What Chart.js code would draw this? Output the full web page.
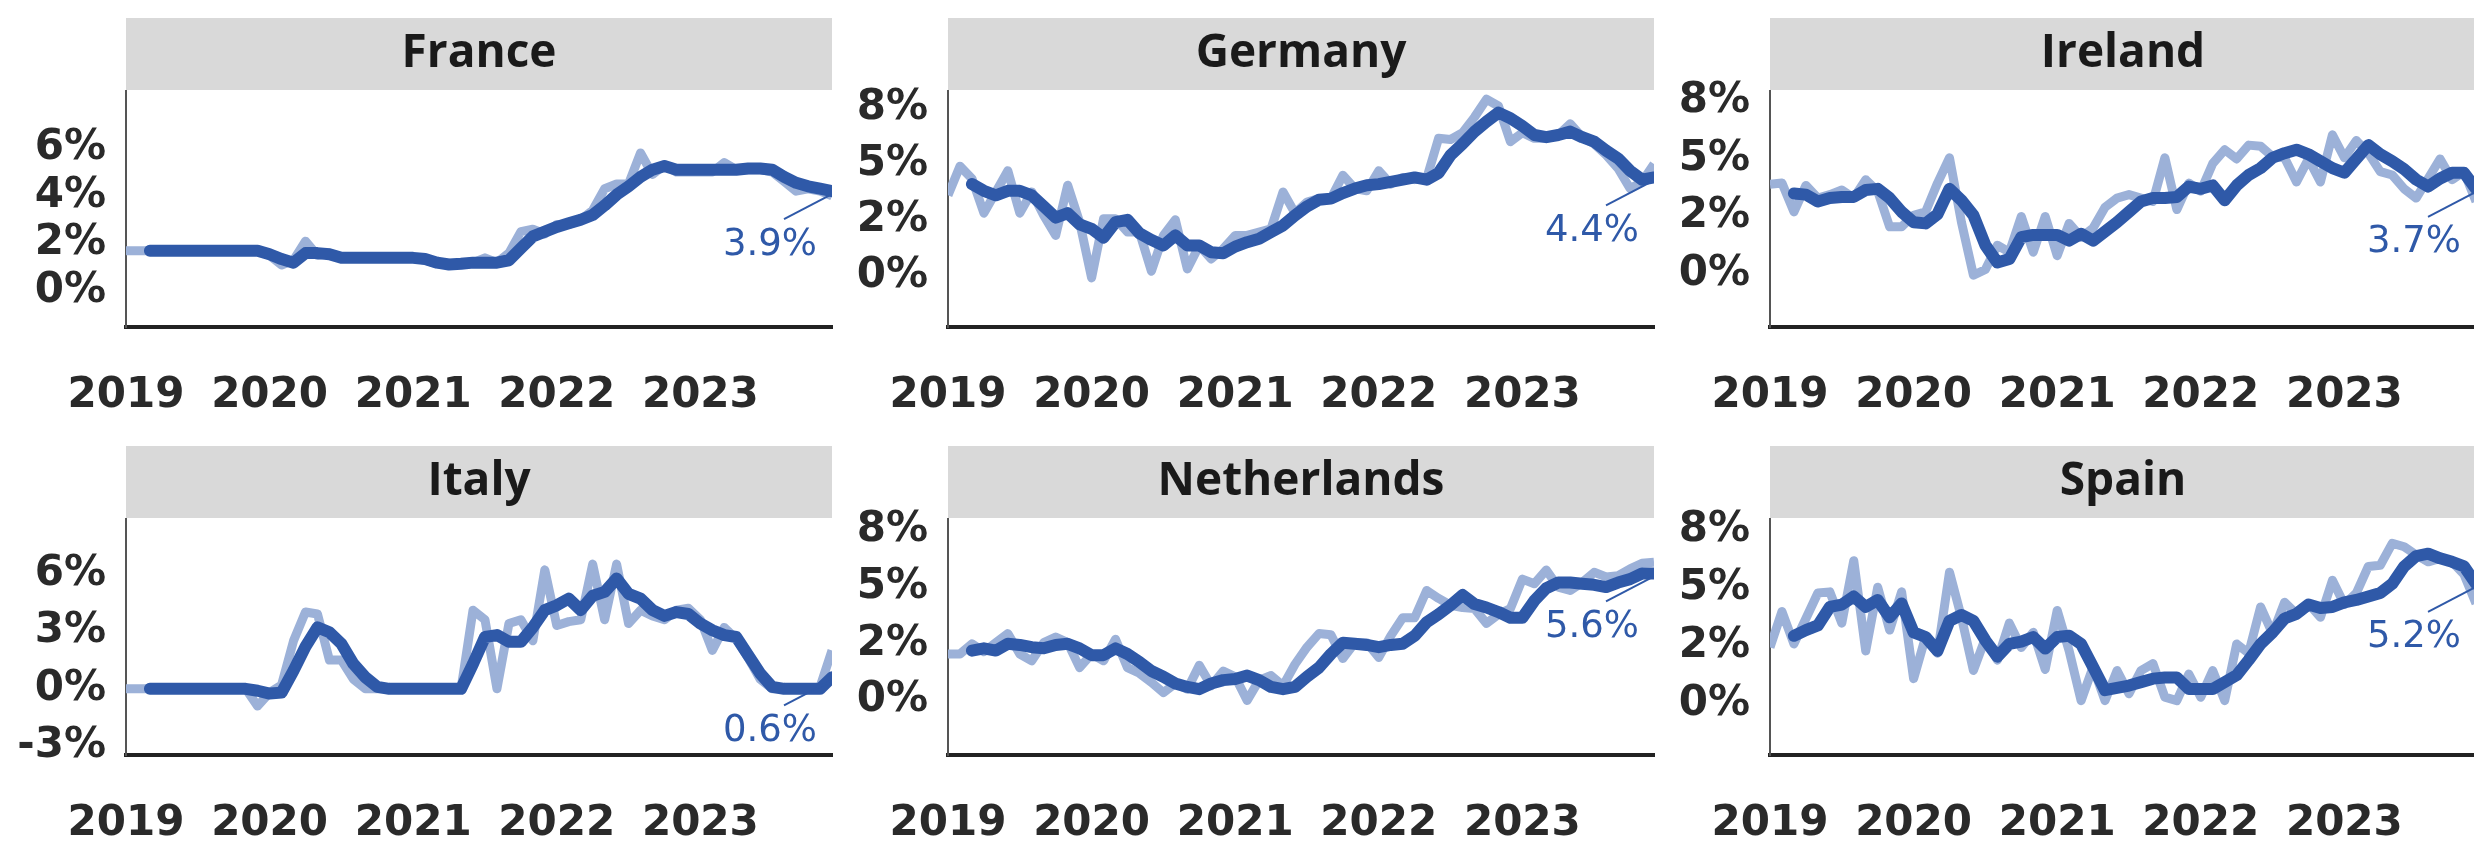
<!DOCTYPE html>
<html>
<head>
<meta charset="utf-8">
<title>Country panels</title>
<script src="https://cdn.jsdelivr.net/npm/chart.js@4.4.1/dist/chart.umd.min.js"></script>
<style>
  html, body { margin: 0; padding: 0; background: #ffffff; width: 2474px; height: 846px; overflow: hidden; }
  #panels { position: relative; width: 2474px; height: 846px; }
  #panels canvas { position: absolute; }
</style>
</head>
<body>
<div id="panels"></div>
<script>
// Monthly series start in Jan 2019 (month index 0) and end in Dec 2023 (index 59).
// The smoothed (dark) series starts two months later, at index 2.
const SMOOTH_START = 2;

const xTickMonths = [0, 12, 24, 36, 48];
const xTickLabels = ["2019", "2020", "2021", "2022", "2023"];

const countries = ["France", "Germany", "Ireland", "Italy", "Netherlands", "Spain"];
const endLabels = ["3.9%", "4.4%", "3.7%", "0.6%", "5.6%", "5.2%"];

// y axes (free per panel)
const yTicks = [
  [0, 2, 4, 6],
  [0, 2.5, 5, 7.5],
  [0, 2.5, 5, 7.5],
  [-3, 0, 3, 6],
  [0, 2.5, 5, 7.5],
  [0, 2.5, 5, 7.5]
];
const yTickLabels = [
  ["0%", "2%", "4%", "6%"],
  ["0%", "2%", "5%", "8%"],
  ["0%", "2%", "5%", "8%"],
  ["-3%", "0%", "3%", "6%"],
  ["0%", "2%", "5%", "8%"],
  ["0%", "2%", "5%", "8%"]
];
const yMin = [-1.5, -2.3, -2.3, -3.45, -2.4, -2.2];
const yMax = [8.4, 8.27, 7.95, 8.85, 8.0, 8.0];

// monthly values (light line)
const franceMonthly = [
  1.7, 1.7, 1.7, 1.7, 1.7, 1.7, 1.7, 1.7, 1.7, 1.7, 1.7, 1.7,
  1.5, 1.1, 1.3, 2.1, 1.5, 1.6, 1.4, 1.4, 1.4, 1.4, 1.4, 1.4,
  1.4, 1.3, 1.15, 1.1, 1.15, 1.2, 1.4, 1.2, 1.6, 2.5, 2.6, 2.4,
  2.8, 2.8, 3.0, 3.4, 4.3, 4.5, 4.5, 5.8, 4.9, 5.3, 5.0, 5.0,
  5.0, 5.0, 5.4, 5.1, 5.1, 5.1, 5.0, 4.6, 4.2, 4.3, 4.2, 4.0
];
const germanyMonthly = [
  3.6, 4.9, 4.35, 2.8, 3.75, 4.7, 2.8, 3.75, 2.7, 1.8, 4.05, 2.4,
  -0.1, 2.55, 2.55, 1.95, 1.95, 0.2, 1.8, 2.5, 0.3, 1.35, 0.75, 1.2,
  1.8, 1.8, 1.95, 2.1, 3.75, 2.8, 3.3, 3.45, 3.45, 4.5, 3.9, 3.8,
  4.7, 4.1, 4.4, 4.3, 4.35, 6.15, 6.1, 6.4, 7.1, 7.9, 7.6, 6.0,
  6.4, 6.15, 6.15, 6.3, 6.8, 6.2, 5.9, 5.4, 4.8, 3.9, 4.2, 5.0
];
const irelandMonthly = [
  3.9, 3.95, 2.7, 3.85, 3.3, 3.45, 3.65, 3.3, 4.1, 3.6, 2.05, 2.05,
  2.55, 2.7, 3.95, 5.05, 2.25, -0.05, 0.2, 1.25, 0.95, 2.5, 0.95, 2.5,
  0.8, 2.2, 1.6, 2.0, 2.9, 3.3, 3.45, 3.3, 3.15, 5.05, 2.8, 3.95,
  3.6, 4.8, 5.4, 5.0, 5.6, 5.55, 5.1, 5.05, 4.0, 5.0, 4.0, 6.05,
  5.05, 5.8, 5.25, 4.45, 4.3, 3.7, 3.3, 4.15, 5.0, 4.1, 4.45, 3.15
];
const italyMonthly = [
  0, 0, 0, 0, 0, 0, 0, 0, 0, 0, 0, -0.9,
  -0.2, 0.2, 2.5, 4.0, 3.9, 1.5, 1.5, 0.5, 0, 0, 0, 0,
  0, 0, 0, 0, 0, 4.1, 3.6, 0, 3.4, 3.6, 2.5, 6.2,
  3.3, 3.5, 3.6, 6.5, 3.6, 6.5, 3.4, 4.1, 3.8, 3.6, 4.1, 4.2,
  3.6, 2.0, 3.2, 2.6, 1.6, 0.5, 0, 0, 0, 0, 0.1, 2.0
];
const netherlandsMonthly = [
  2.05, 2.05, 2.5, 2.15, 2.55, 2.95, 2.05, 1.75, 2.55, 2.8, 2.55, 1.45,
  2.05, 1.75, 2.7, 1.45, 1.2, 0.8, 0.35, 0.75, 0.5, 1.55, 0.65, 1.3,
  1.05, 0.0, 0.9, 1.1, 0.65, 1.6, 2.35, 2.95, 2.9, 1.85, 2.55, 2.55,
  1.9, 2.85, 3.65, 3.65, 4.85, 4.5, 4.2, 4.1, 4.05, 3.4, 3.8, 4.05,
  5.35, 5.15, 5.75, 5.0, 4.85, 5.2, 5.65, 5.45, 5.5, 5.8, 6.05, 6.1
];
const spainMonthly = [
  2.45, 4.0, 2.6, 3.7, 4.8, 4.85, 3.5, 6.2, 2.3, 5.05, 3.2, 4.85,
  1.1, 2.9, 2.2, 5.7, 3.75, 1.45, 2.85, 1.9, 3.5, 2.45, 3.1, 1.5,
  4.05, 2.3, 0.15, 1.6, 0.15, 1.45, 0.45, 1.45, 1.75, 0.3, 0.15, 1.3,
  0.3, 1.45, 0.15, 2.6, 2.2, 4.2, 3.05, 4.4, 3.9, 4.35, 3.75, 5.35,
  4.3, 4.8, 5.95, 6.0, 6.95, 6.8, 6.45, 6.15, 6.3, 6.15, 5.6, 4.35
];

// smoothed values (dark line), from month index 2
const franceSmoothed = [
  1.7, 1.7, 1.7, 1.7, 1.7, 1.7, 1.7, 1.7, 1.7, 1.7,
  1.55, 1.35, 1.2, 1.6, 1.6, 1.55, 1.4, 1.4, 1.4, 1.4, 1.4, 1.4,
  1.4, 1.35, 1.2, 1.12, 1.15, 1.2, 1.2, 1.2, 1.3, 1.8, 2.3, 2.5,
  2.7, 2.85, 3.0, 3.2, 3.6, 4.05, 4.4, 4.8, 5.1, 5.25, 5.1, 5.1,
  5.1, 5.1, 5.1, 5.1, 5.15, 5.15, 5.1, 4.8, 4.55, 4.4, 4.3, 4.2
];
const germanySmoothed = [
  4.1, 3.8, 3.6, 3.8, 3.8, 3.6, 3.1, 2.6, 2.8, 2.3,
  2.1, 1.7, 2.4, 2.5, 1.9, 1.6, 1.35, 1.8, 1.35, 1.35, 1.05, 1.0,
  1.3, 1.5, 1.65, 1.95, 2.25, 2.7, 3.1, 3.4, 3.45, 3.7, 3.9, 4.05,
  4.1, 4.2, 4.3, 4.4, 4.3, 4.6, 5.4, 5.9, 6.45, 6.9, 7.3, 7.05,
  6.7, 6.3, 6.2, 6.3, 6.45, 6.2, 6.0, 5.6, 5.25, 4.7, 4.3, 4.4
];
const irelandSmoothed = [
  3.5, 3.45, 3.15, 3.3, 3.35, 3.35, 3.65, 3.7, 3.3, 2.7,
  2.25, 2.2, 2.6, 3.7, 3.2, 2.55, 1.25, 0.5, 0.65, 1.6, 1.7, 1.7,
  1.7, 1.45, 1.75, 1.45, 1.85, 2.25, 2.7, 3.15, 3.3, 3.3, 3.35, 3.8,
  3.7, 3.85, 3.2, 3.85, 4.3, 4.6, 5.05, 5.25, 5.4, 5.2, 4.9, 4.6,
  4.4, 5.0, 5.6, 5.2, 4.9, 4.55, 4.1, 3.8, 4.15, 4.4, 4.4, 3.7
];
const italySmoothed = [
  0, 0, 0, 0, 0, 0, 0, 0, 0, -0.1,
  -0.25, -0.2, 0.95, 2.2, 3.2, 2.95, 2.35, 1.3, 0.6, 0.1, 0, 0,
  0, 0, 0, 0, 0, 1.3, 2.7, 2.8, 2.45, 2.45, 3.2, 4.1,
  4.35, 4.7, 4.1, 4.85, 5.05, 5.75, 4.95, 4.7, 4.1, 3.8, 4.0, 3.9,
  3.4, 3.05, 2.8, 2.7, 1.75, 0.8, 0.1, 0, 0, 0, 0, 0.6
];
const netherlandsSmoothed = [
  2.2, 2.3, 2.2, 2.5, 2.45, 2.35, 2.3, 2.45, 2.5, 2.3,
  2.0, 2.0, 2.3, 2.05, 1.7, 1.3, 1.05, 0.75, 0.6, 0.5, 0.75, 0.9,
  0.95, 1.1, 0.9, 0.6, 0.5, 0.6, 1.05, 1.45, 2.05, 2.55, 2.5, 2.45,
  2.35, 2.45, 2.5, 2.85, 3.45, 3.8, 4.2, 4.65, 4.25, 4.1, 3.9, 3.65,
  3.65, 4.4, 4.95, 5.2, 5.2, 5.15, 5.1, 5.0, 5.2, 5.35, 5.6, 5.6
];
const spainSmoothed = [
  2.95, 3.2, 3.4, 4.2, 4.3, 4.65, 4.2, 4.5, 3.75, 4.35,
  3.1, 2.9, 2.3, 3.6, 3.85, 3.6, 2.75, 2.05, 2.6, 2.7, 2.9, 2.4,
  2.9, 2.95, 2.6, 1.6, 0.6, 0.7, 0.8, 0.95, 1.1, 1.15, 1.15, 0.65,
  0.65, 0.65, 0.95, 1.25, 1.9, 2.6, 3.1, 3.7, 3.9, 4.3, 4.15, 4.2,
  4.4, 4.5, 4.65, 4.8, 5.2, 5.95, 6.4, 6.5, 6.3, 6.15, 5.95, 5.2
];

const monthlySeries = [franceMonthly, germanyMonthly, irelandMonthly, italyMonthly, netherlandsMonthly, spainMonthly];
const smoothedSeries = [franceSmoothed, germanySmoothed, irelandSmoothed, italySmoothed, netherlandsSmoothed, spainSmoothed];

// layout / styles
const DARK = "#2f59a8";
const LIGHT = "#9cb1d8";
const CANVAS_W = 840;
const CANVAS_H = 428;
const COL_STEP = 822;
const ROW_STEP = 428;
const PLOT_LEFT = 126;
const PLOT_RIGHT = 832;
const PLOT_TOP = 91;
const PLOT_BOTTOM = 327;
const STRIP_H = 72;

// Grey facet strip with the country name, above the plot area
const stripPlugin = {
  id: "facetStrip",
  beforeDraw(chart, args, opts) {
    const { ctx, chartArea } = chart;
    ctx.save();
    ctx.fillStyle = "#d9d9d9";
    ctx.fillRect(chartArea.left, chartArea.top - STRIP_H - 1, chartArea.right - chartArea.left, STRIP_H);
    ctx.fillStyle = "#1a1a1a";
    ctx.font = "bold 46px 'Open Sans'";
    ctx.textAlign = "center";
    ctx.textBaseline = "middle";
    ctx.fillText(opts.text, (chartArea.left + chartArea.right) / 2, chartArea.top - STRIP_H / 2 - 1);
    ctx.restore();
  }
};

// Value label near the end of the smoothed line, with a thin leader segment
const endLabelPlugin = {
  id: "endLabel",
  afterDatasetsDraw(chart, args, opts) {
    const { ctx, scales } = chart;
    const last = opts.values[opts.values.length - 1];
    const px = scales.x.getPixelForValue(SMOOTH_START + opts.values.length - 1);
    const py = scales.y.getPixelForValue(last);
    const lx = px - 62;
    const ly = py + 54;
    ctx.save();
    ctx.strokeStyle = DARK;
    ctx.lineWidth = 2;
    ctx.beginPath();
    ctx.moveTo(lx + 14, ly - 26);
    ctx.lineTo(px - 2, py + 4);
    ctx.stroke();
    ctx.fillStyle = DARK;
    ctx.font = "37px 'DejaVu Sans'";
    ctx.textAlign = "center";
    ctx.textBaseline = "middle";
    ctx.fillText(opts.text, lx, ly);
    ctx.restore();
  }
};

function buildPanel(i) {
  const holder = document.getElementById("panels");
  const canvas = document.createElement("canvas");
  canvas.width = CANVAS_W;
  canvas.height = CANVAS_H;
  canvas.style.left = (i % 3) * COL_STEP + "px";
  canvas.style.top = Math.floor(i / 3) * ROW_STEP + "px";
  canvas.style.width = CANVAS_W + "px";
  canvas.style.height = CANVAS_H + "px";
  holder.appendChild(canvas);

  const monthly = monthlySeries[i];
  const smoothed = smoothedSeries[i];

  // 1. smoothed line (thick, on top)
  const smoothDataset = {
    label: countries[i] + " smoothed",
    data: smoothed.map((v, k) => ({ x: k + SMOOTH_START, y: v })),
    borderColor: DARK,
    borderWidth: 12,
    pointRadius: 0,
    tension: 0,
    borderJoinStyle: "round",
    borderCapStyle: "round",
    order: 0
  };

  // 2. monthly line (light, underneath)
  const monthlyDataset = {
    label: countries[i] + " monthly",
    data: monthly.map((v, k) => ({ x: k, y: v })),
    borderColor: LIGHT,
    borderWidth: 9,
    pointRadius: 0,
    tension: 0,
    borderJoinStyle: "round",
    order: 1
  };

  const tickFont = { family: "'DejaVu Sans'", size: 42, weight: "bold" };

  return new Chart(canvas, {
    type: "line",
    data: { datasets: [smoothDataset, monthlyDataset] },
    options: {
      responsive: false,
      devicePixelRatio: 1,
      animation: false,
      layout: {
        padding: { left: 0, right: CANVAS_W - PLOT_RIGHT, top: PLOT_TOP, bottom: 0 }
      },
      plugins: {
        legend: { display: false },
        tooltip: { enabled: false },
        facetStrip: { text: countries[i] },
        endLabel: { text: endLabels[i], values: smoothed }
      },
      scales: {
        x: {
          type: "linear",
          min: 0,
          max: monthly.length - 1,
          grid: { display: false, drawTicks: false },
          border: { display: true, color: "#222222", width: 4 },
          afterBuildTicks: (scale) => { scale.ticks = xTickMonths.map(v => ({ value: v })); },
          afterFit: (scale) => { scale.height = CANVAS_H - PLOT_BOTTOM; },
          ticks: {
            autoSkip: false,
            maxRotation: 0,
            padding: 44,
            color: "#2a2a2a",
            font: tickFont,
            callback: (value) => xTickLabels[xTickMonths.indexOf(value)]
          }
        },
        y: {
          type: "linear",
          min: yMin[i],
          max: yMax[i],
          grid: { display: false, drawTicks: false },
          border: { display: true, color: "#555555", width: 2 },
          afterBuildTicks: (scale) => { scale.ticks = yTicks[i].map(v => ({ value: v })); },
          afterFit: (scale) => { scale.width = PLOT_LEFT; },
          ticks: {
            padding: 20,
            color: "#2a2a2a",
            font: tickFont,
            callback: (value) => yTickLabels[i][yTicks[i].indexOf(value)]
          }
        }
      }
    },
    plugins: [stripPlugin, endLabelPlugin]
  });
}

document.addEventListener("DOMContentLoaded", function() {
  countries.forEach((c, i) => buildPanel(i));
});
</script>
</body>
</html>
